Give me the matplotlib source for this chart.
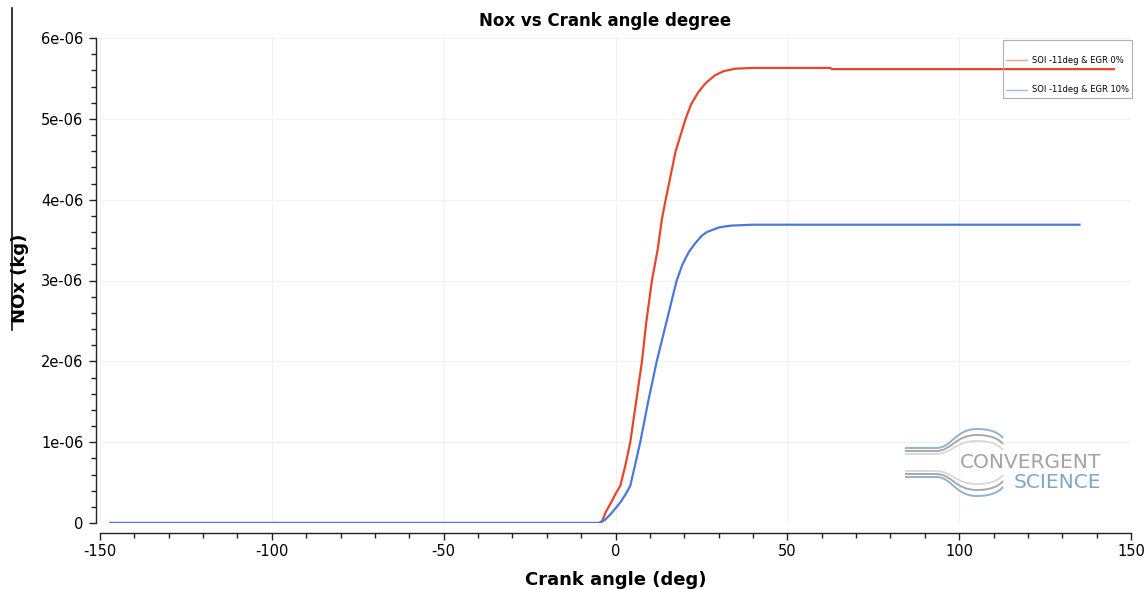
import matplotlib
matplotlib.use("Agg")
import matplotlib.pyplot as plt
from matplotlib.path import Path
from matplotlib.patches import PathPatch, Rectangle
from matplotlib.lines import Line2D
from matplotlib.ticker import MultipleLocator, FixedLocator
import numpy as np

# ---------------- data ----------------
egr0_angle = [-147, -4.8, -4.0, -3.5, -2.9, -1.2, 0.0, 1.4, 2.8, 4.3, 6.0, 7.7, 9.0, 10.6,
              12.3, 13.5, 14.6, 17.5, 20.4, 22.0, 24.1, 26.0, 27.0, 29.0, 31.5, 34.8,
              40.0, 62.5, 63.0, 145]
egr0_nox = [0, 0, 0.02, 0.06, 0.13, 0.26, 0.36, 0.46, 0.7, 1.0, 1.5, 2.0, 2.5, 3.0,
            3.39, 3.76, 4.0, 4.6, 5.0, 5.18, 5.33, 5.43, 5.47, 5.54, 5.59, 5.62,
            5.63, 5.63, 5.615, 5.615]

egr10_angle = [-147, -4.8, -3.0, -1.0, 1.5, 3.0, 4.3, 5.7, 7.2, 9.5, 12.0, 17.8, 19.5,
               21.3, 23.0, 24.0, 25.0, 26.6, 28.5, 30.0, 32.0, 34.0, 40.0, 135]
egr10_nox = [0, 0, 0.04, 0.13, 0.26, 0.36, 0.46, 0.72, 1.0, 1.5, 2.0, 3.0, 3.2,
             3.35, 3.45, 3.50, 3.55, 3.60, 3.63, 3.655, 3.67, 3.68, 3.69, 3.69]

series_labels = ["SOI -11deg & EGR 0%", "SOI -11deg & EGR 10%"]
x_ticks = [-150, -100, -50, 0, 50, 100, 150]
y_ticks = [0, 1e-6, 2e-6, 3e-6, 4e-6, 5e-6, 6e-6]
y_tick_labels = ["0", "1e-06", "2e-06", "3e-06", "4e-06", "5e-06", "6e-06"]

RED = "#E8452B"
BLUE = "#4A78DC"

W, H = 1146, 589
fig = plt.figure(figsize=(W / 100, H / 100), dpi=100)
ax = fig.add_axes([100 / W, 1 - 523 / H, (1131 - 100) / W, (523 - 38) / H])


def px(x, y):
    return (x / W, 1 - y / H)


ax.plot(egr0_angle, np.array(egr0_nox) * 1e-6, color=RED, lw=1.6, solid_joinstyle="round")
ax.plot(egr10_angle, np.array(egr10_nox) * 1e-6, color=BLUE, lw=1.6, solid_joinstyle="round")

ax.set_xlim(-150, 150)
ax.set_ylim(0, 6e-6)
ax.xaxis.set_major_locator(FixedLocator(x_ticks))
ax.xaxis.set_minor_locator(MultipleLocator(10))
ax.yaxis.set_major_locator(FixedLocator(y_ticks))
ax.yaxis.set_minor_locator(MultipleLocator(0.2e-6))
ax.set_yticklabels(y_tick_labels)
ax.set_xticklabels([str(v) for v in x_ticks])

ax.grid(True, which="major", color="#f1f1f1", lw=0.8)
ax.set_axisbelow(True)

for s in ["top", "right"]:
    ax.spines[s].set_visible(False)
ax.spines["bottom"].set_position(("outward", 7))
ax.spines["left"].set_position(("outward", 3))
for s in ["bottom", "left"]:
    ax.spines[s].set_linewidth(1.0)
    ax.spines[s].set_color("#222222")

ax.tick_params(axis="both", which="major", direction="out", length=5, width=1,
               labelsize=10.5, colors="#222222", labelcolor="black")
ax.tick_params(axis="both", which="minor", direction="out", length=3.5, width=1,
               colors="#222222")
ax.tick_params(axis="x", pad=3)
ax.tick_params(axis="y", pad=4)

ax.set_title("Nox vs Crank angle degree", fontsize=12, fontweight="bold", pad=9,
             x=(605 - 100) / (1131 - 100))
ax.set_xlabel("Crank angle (deg)", fontsize=13, fontweight="bold", labelpad=9)
fig.text(20 / W, 1 - 278 / H, "NOx (kg)", rotation=90, ha="center", va="center",
         fontsize=13, fontweight="bold")

# legend (entries) + its frame
handles = [Line2D([], [], color=RED, lw=1.0, alpha=0.5),
           Line2D([], [], color=BLUE, lw=1.0, alpha=0.5)]
leg = ax.legend(handles, series_labels, loc="center left",
                bbox_to_anchor=px(1006, 75), bbox_transform=fig.transFigure,
                fontsize=6, frameon=False, borderpad=0, labelspacing=2.5,
                handlelength=2.5, handletextpad=0.6, borderaxespad=0)
x0, y0 = px(1003, 98)
x1, y1 = px(1132, 40)
fig.add_artist(Rectangle((x0, y0), x1 - x0, y1 - y0, transform=fig.transFigure,
                         facecolor="none", edgecolor="#b0b0b0", lw=0.8))

# vertical line at the far left
fig.add_artist(Line2D([12 / W, 12 / W], [1 - 8 / H, 1 - 330 / H], color="#111111", lw=1.2,
                      transform=fig.transFigure))

# ---- watermark logo (pixel coords, y from top) ----
cy = 462.5
specs = [(14.5, "#8fb3cf", 19), (11.5, "#a9a9a9", 16), (8.5, "#dadada", 13)]
for off, col, bump in specs:
    for sgn in (-1, 1):
        yb = cy + sgn * off
        verts = [px(905, yb), px(936, yb),
                 px(952, yb), px(955, yb + sgn * bump), px(977, yb + sgn * bump),
                 px(991, yb + sgn * bump), px(999, yb + sgn * (bump - 4)), px(1003, yb + sgn * (bump - 9))]
        codes = [Path.MOVETO, Path.LINETO, Path.CURVE4, Path.CURVE4, Path.CURVE4,
                 Path.CURVE4, Path.CURVE4, Path.CURVE4]
        fig.add_artist(PathPatch(Path(verts, codes), fill=False, edgecolor=col, lw=1.4,
                                 transform=fig.transFigure))

fig.text(1101 / W, 1 - 462 / H, "CONVERGENT", ha="right", va="center", fontsize=14.5,
         color="#a3a3a3", family="DejaVu Sans")
fig.text(1101 / W, 1 - 483 / H, "SCIENCE", ha="right", va="center", fontsize=14.5,
         color="#7ea7c6", family="DejaVu Sans")

fig.savefig("out.png", dpi=100)
